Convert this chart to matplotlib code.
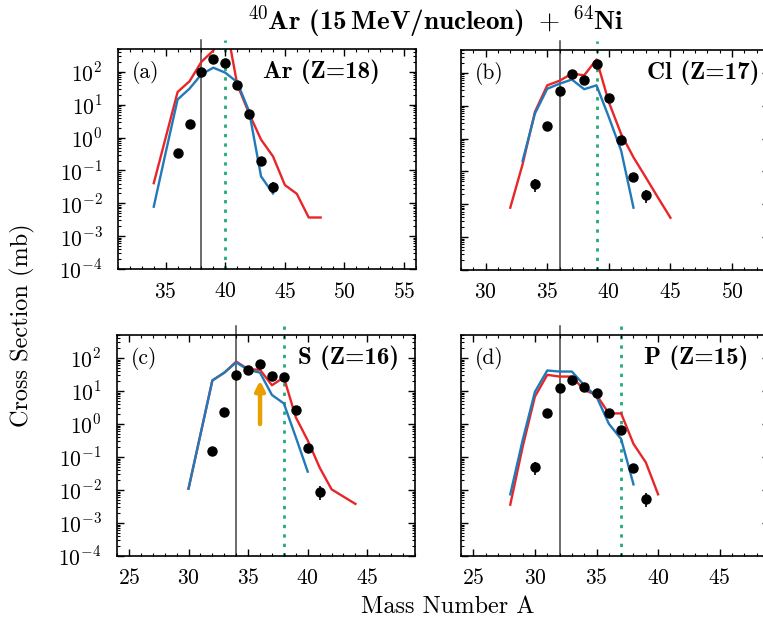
import numpy as np
import matplotlib
matplotlib.use("Agg")
import matplotlib.pyplot as plt
from matplotlib.ticker import FixedLocator, MultipleLocator, FuncFormatter, LogLocator, NullFormatter

plt.rcParams['font.family'] = ['cmr10', 'DejaVu Serif']
plt.rcParams['mathtext.fontset'] = 'cm'
plt.rcParams['mathtext.rm'] = 'cmr10'
plt.rcParams['mathtext.bf'] = 'cmb10'
plt.rcParams['axes.formatter.use_mathtext'] = True

# (a) Ar, Z=18
ar_exp_A = [36, 37, 38, 39, 40, 41, 42, 43, 44]
ar_exp = [0.34, 2.6, 102, 245, 185, 40, 5.2, 0.19, 0.032]
ar_err = [0, 0, 0, 0, 0, 0, 0, 0, 0.012]
ar_blue_A = [34, 35, 36, 37, 38, 39, 40, 41, 42, 43, 44]
ar_blue = [0.0079, 0.35, 14.5, 31, 85, 135, 95, 49, 6.3, 0.066, 0.020]
ar_red_A = [34, 35, 36, 37, 38, 39, 40, 41, 42, 43, 44, 45, 46, 47, 48]
ar_red = [0.041, 1.0, 24.5, 52, 204, 450, 4000, 42, 5.4, 0.87, 0.27, 0.036, 0.0195, 0.0037, 0.0037]

# (b) Cl, Z=17
cl_exp_A = [34, 35, 36, 37, 38, 39, 40, 41, 42, 43]
cl_exp = [0.041, 2.4, 28, 95, 60, 194, 17.5, 0.91, 0.069, 0.019]
cl_err = [0.018, 0, 0, 0, 0, 0, 0, 0, 0, 0.008]
cl_blue_A = [33, 34, 35, 36, 37, 38, 39, 40, 41, 42]
cl_blue = [0.21, 5.8, 33, 47, 63, 32, 42, 4.5, 0.43, 0.0079]
cl_red_A = [32, 33, 34, 35, 36, 37, 38, 39, 40, 41, 42, 43, 44, 45]
cl_red = [0.0079, 0.166, 6.5, 42, 58, 95, 85, 257, 12.9, 1.38, 0.27, 0.066, 0.0158, 0.0039]

# (c) S, Z=16
s_exp_A = [32, 33, 34, 35, 36, 37, 38, 39, 40, 41]
s_exp = [0.155, 2.3, 31, 42, 67, 29, 26, 2.7, 0.19, 0.009]
s_err = [0, 0, 0, 0, 0, 0, 0, 0, 0, 0.004]
s_blue_A = [30, 31, 32, 33, 34, 35, 36, 37, 38, 39, 40]
s_blue = [0.011, 0.48, 21, 36, 74, 44, 36, 7.6, 4.2, 0.40, 0.036]
s_red_A = [30, 31, 32, 33, 34, 35, 36, 37, 38, 39, 40, 41, 42, 43, 44]
s_red = [0.011, 0.48, 21, 36, 78, 46, 44, 15, 26, 1.6, 0.32, 0.048, 0.0105, 0.0063, 0.0038]

# (d) P, Z=15
p_exp_A = [30, 31, 32, 33, 34, 35, 36, 37, 38, 39]
p_exp = [0.05, 2.1, 12, 22, 13.5, 8.5, 2.1, 0.68, 0.048, 0.0055]
p_err = [0.022, 0, 0, 0, 0, 0, 0, 0, 0, 0.0025]
p_blue_A = [28, 29, 30, 31, 32, 33, 34, 35, 36, 37, 38]
p_blue = [0.0074, 0.32, 9.5, 42, 39, 39, 15, 6.8, 1.02, 0.35, 0.0148]
p_red_A = [28, 29, 30, 31, 32, 33, 34, 35, 36, 37, 38, 39, 40]
p_red = [0.0036, 0.2, 6.8, 31, 27.5, 27.5, 10.7, 7.6, 2.1, 2.1, 0.25, 0.069, 0.0074]

tags = ['(a)', '(b)', '(c)', '(d)']
names = ['Ar (Z=18)', 'Cl (Z=17)', 'S (Z=16)', 'P (Z=15)']
n_eq_z = [38, 36, 34, 32]
a_proj = [40, 39, 38, 37]
xlims = [(31, 56), (28, 53), (24, 49), (24, 49)]
name_x = [0.486, 0.604, 0.607, 0.594]

W, H = 763, 623
boxes = [(118, 49, 298, 220), (461, 50, 308, 220), (117, 335, 298, 221), (461, 335, 308, 221)]

panels = [
    (ar_exp_A, ar_exp, ar_err, ar_blue_A, ar_blue, ar_red_A, ar_red),
    (cl_exp_A, cl_exp, cl_err, cl_blue_A, cl_blue, cl_red_A, cl_red),
    (s_exp_A, s_exp, s_err, s_blue_A, s_blue, s_red_A, s_red),
    (p_exp_A, p_exp, p_err, p_blue_A, p_blue, p_red_A, p_red),
]

red = '#e8262a'
blue = '#2279b9'
green = '#22aa78'

fig = plt.figure(figsize=(W / 100, H / 100), dpi=100)

for i, (ex_A, ex, err, b_A, b, r_A, r) in enumerate(panels):
    l, t, w, h = boxes[i]
    ax = fig.add_axes([l / W, 1 - (t + h) / H, w / W, h / H])
    ax.set_yscale('log')
    ax.set_ylim(1e-4, 5e2)
    ax.set_xlim(*xlims[i])

    ax.axvline(n_eq_z[i], ymin=0, ymax=1.04, color='#444444', lw=1.1, clip_on=False, zorder=1)
    ax.axvline(a_proj[i], ymin=0, ymax=1.04, color=green, lw=2.0, ls=(0, (1.2, 2.2)), clip_on=False, zorder=1)

    ax.plot(r_A, r, color=red, lw=1.7, zorder=2)
    ax.plot(b_A, b, color=blue, lw=1.7, zorder=3)
    ax.errorbar(ex_A, ex, yerr=np.array(err), fmt='o', color='black', ms=6.5,
                elinewidth=1.2, capsize=0, zorder=4)

    if i == 2:
        ax.annotate('', xy=(36, 21), xytext=(36, 1.0),
                    arrowprops=dict(arrowstyle='-|>', lw=3.2, color='#e8a000',
                                    mutation_scale=14, shrinkA=0, shrinkB=0), zorder=5)

    ax.text(0.046, 0.895, tags[i], transform=ax.transAxes, fontsize=15.5, va='center', ha='left')
    ax.text(name_x[i], 0.895, names[i], transform=ax.transAxes, fontsize=18,
            va='center', ha='left', family='cmb10')

    ax.yaxis.set_major_locator(FixedLocator([1e-4, 1e-3, 1e-2, 1e-1, 1, 10, 100]))
    ax.yaxis.set_major_formatter(FuncFormatter(lambda v, p: r'$10^{%d}$' % round(np.log10(v))))
    ax.yaxis.set_minor_locator(LogLocator(base=10, subs=np.arange(2, 10), numticks=20))
    ax.yaxis.set_minor_formatter(NullFormatter())
    ax.xaxis.set_major_locator(MultipleLocator(5))
    ax.xaxis.set_minor_locator(MultipleLocator(1))
    ax.xaxis.set_major_formatter(FuncFormatter(lambda v, p: r'$%d$' % v))
    ax.tick_params(which='both', direction='in', top=True, right=True, labelsize=15.5)
    ax.tick_params(which='major', length=5, width=1)
    ax.tick_params(which='minor', length=2.5, width=0.8)
    ax.tick_params(axis='x', pad=9)
    ax.tick_params(axis='y', pad=11)
    if i in (1, 3):
        ax.tick_params(axis='y', labelleft=False)
    for s in ax.spines.values():
        s.set_linewidth(1.2)

fig.text(0.572, 0.965, r'$^{40}\mathbf{Ar\ (15\,MeV/nucleon)}\ +\ ^{64}\mathbf{Ni}$',
         ha='center', va='center', fontsize=19.5, math_fontfamily='custom')
fig.text(0.030, 0.478, 'Cross Section (mb)', rotation=90, ha='center', va='center', fontsize=17.5)
fig.text(0.587, 0.026, 'Mass Number A', ha='center', va='center', fontsize=17.5)

fig.savefig('out.png', dpi=100)
